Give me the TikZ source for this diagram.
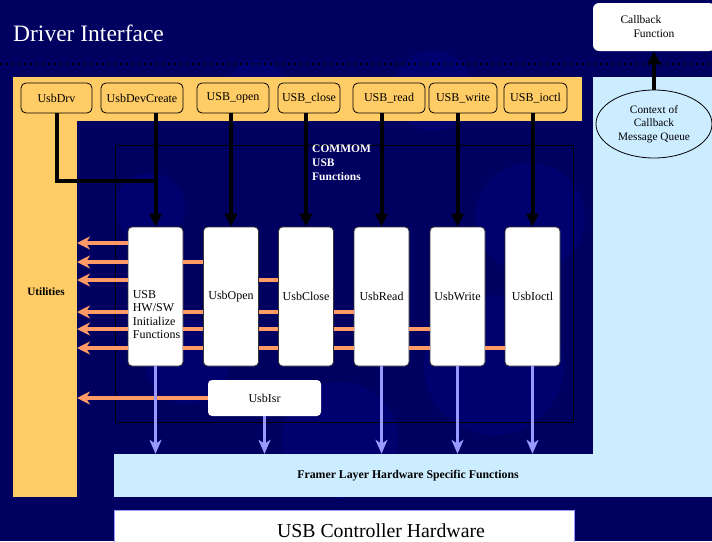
\documentclass[tikz,border=0pt]{standalone}
\usepackage{fontspec}
\setmainfont{Liberation Serif}
\usetikzlibrary{arrows.meta,shapes.geometric}
\definecolor{navy}{HTML}{000060}
\definecolor{blob}{HTML}{00006F}
\definecolor{gold}{HTML}{FFCC66}
\definecolor{salmon}{HTML}{FF9966}
\definecolor{sky}{HTML}{CCECFF}
\definecolor{lilac}{HTML}{9999FF}
\tikzset{
  apibox/.style={draw=black,line width=0.8pt,fill=gold,rounded corners=5pt,
    minimum height=30pt,inner sep=0pt,font=\fontsize{12}{14}\selectfont},
  fnbox/.style={draw=black!80,line width=0.8pt,fill=white,rounded corners=4pt,
    minimum width=55pt,minimum height=139pt,inner sep=0pt,font=\fontsize{12}{13.5}\selectfont},
  call/.style={line width=4pt,-{Triangle[width=12pt,length=13pt]}},
  util/.style={salmon,line width=4pt},
  utilarrow/.style={util,-{Stealth[width=13pt,length=13pt,inset=4pt]}},
  hwarrow/.style={lilac,line width=3pt,-{Stealth[width=12pt,length=14pt,inset=4pt]}}
}
\begin{document}
\begin{tikzpicture}[x=1pt,y=-1pt]
  \useasboundingbox (0,0) rectangle (712,541);
  \clip (0,0) rectangle (712,541);
  % backdrop
  \fill[navy] (0,0) rectangle (712,541);
  \foreach \cx/\cy/\r in {257/90/30, 433/91/40, 150/208/35, 530/218/55, 187/362/42, 494/365/70, 340/440/58}
    \fill[blob] (\cx,\cy) circle[radius=\r];
  \draw[line width=1.5pt,dash pattern=on 2pt off 4pt] (0,64) -- (712,64);
  \node[anchor=west,inner sep=0pt,text=white,font=\fontsize{23.5}{28}\selectfont] (title) at (13,33) {Driver Interface};

  % bands
  \fill[gold] (13,77) rectangle (582,121);
  \fill[gold] (13,77) rectangle (77,497);
  \fill[sky] (593,77) rectangle (712,497);
  \draw[line width=0.8pt] (115,145) rectangle (573,422);

  \node[font=\bfseries\fontsize{11.2}{13}\selectfont] (util) at (46,292) {Utilities};
  \coordinate (utiledge) at (77,292);
  \node[anchor=north west,inner sep=0pt,align=left,text=white,font=\bfseries\fontsize{11.5}{14}\selectfont] (common) at (312,145) {COMMOM\\USB\\Functions};

  % driver entry points
  \foreach \nm/\xa/\xb/\txt in {drv/21/92/UsbDrv, devcreate/101/183/UsbDevCreate, uopen/197/269/USB\_open,
      uclose/278/340/USB\_close, uread/353/425/USB\_read, uwrite/429/497/USB\_write, uioctl/504/567/USB\_ioctl}
    \node[apibox,minimum width={(\xb-\xa)*1pt}] (\nm) at ({(\xa+\xb)/2},98) {\txt};

  % common functions
  \node[fnbox,label={[align=left,font=\fontsize{12}{13.5}\selectfont,xshift=1pt,yshift=-18pt]center:USB\\HW/SW\\Initialize\\Functions}] (init) at (155.5,296.5) {};
  \foreach \nm/\cx/\txt in {fopen/231/UsbOpen, fclose/306/UsbClose, fread/381.5/UsbRead, fwrite/457.5/UsbWrite, fioctl/532.5/UsbIoctl}
    \node[fnbox] (\nm) at (\cx,296.5) {\txt};
  \node[fill=white,rounded corners=4pt,minimum width=113pt,minimum height=36pt,inner sep=0pt,font=\fontsize{12}{14}\selectfont] (isr) at (264.5,398) {UsbIsr};

  \node[fill=sky,minimum width=598pt,minimum height=43pt,inner sep=0pt,
    label={[font=\bfseries\fontsize{11.8}{13}\selectfont,xshift=-5pt]center:Framer Layer Hardware Specific Functions}] (framer) at (413,475.5) {};
  \node[fill=white,draw=lilac,line width=1pt,minimum width=460pt,minimum height=44pt,
    label={[font=\fontsize{19.8}{22}\selectfont,xshift=37pt,yshift=1pt]center:USB Controller Hardware}] (ctrl) at (344,532) {};

  % callback side
  \node[fill=white,rounded corners=6pt,minimum width=122pt,minimum height=48pt,align=left,font=\fontsize{11.5}{14}\selectfont] (cb) at (654,27) {Callback\\\hspace*{13pt}Function\hspace*{13pt}};
  \node[ellipse,draw,line width=0.8pt,fill=sky,minimum width=116pt,minimum height=68pt,inner sep=0pt,align=center,font=\fontsize{11.3}{13.5}\selectfont] (ctx) at (654,124) {Context of\\Callback\\Message Queue};
  \draw[call] (ctx.north) -- (cb.south);

  % calls into the common functions
  \coordinate (drvjoin) at (init.north |- 0,181);
  \draw[line width=4pt] (drv.south) |- (drvjoin);
  \foreach \src/\dst in {devcreate/init, uopen/fopen, uclose/fclose, uread/fread, uwrite/fwrite, uioctl/fioctl}
    \draw[call] (\src.south -| \dst.north) -- (\dst.north);

  % utilities
  \foreach \y in {243,262,280,312,329,348}
    \draw[utilarrow] (init.west |- 0,\y) -- (utiledge |- 0,\y);
  \draw[utilarrow] (isr.west) -- (utiledge |- isr.west);
  \foreach \a/\b/\ys in {init/fopen/{262,312,329,348}, fopen/fclose/{280,312,329,348},
      fclose/fread/{312,329,348}, fread/fwrite/{329,348}, fwrite/fioctl/{348}}
    \foreach \y in \ys
      \draw[util] (\a.east |- 0,\y) -- (\b.west |- 0,\y);

  % down to the hardware layer
  \foreach \nm in {init,isr,fread,fwrite,fioctl}
    \draw[hwarrow] (\nm.south) -- (\nm.south |- framer.north);
\end{tikzpicture}
\end{document}
